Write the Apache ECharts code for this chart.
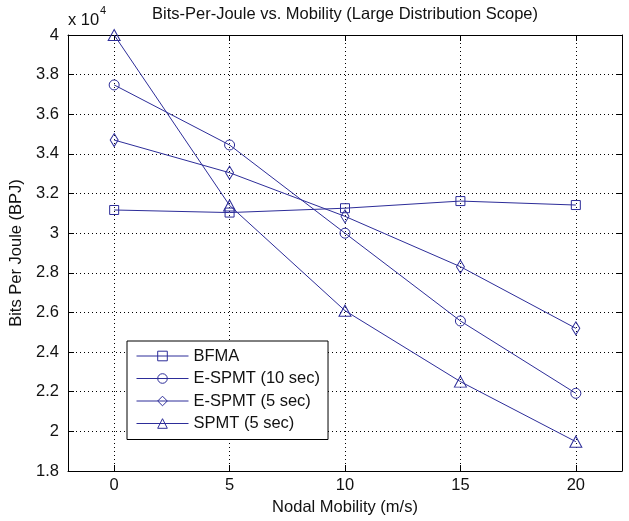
<!DOCTYPE html>
<html>
<head>
<meta charset="utf-8">
<script src="https://cdn.jsdelivr.net/npm/echarts@6/dist/echarts.min.js"></script>
<style>
html,body{margin:0;padding:0;background:#fff;}
#chart{width:629px;height:521px;}
</style>
</head>
<body>
<div id="chart"></div>
<script>
// ---- data ----
const mobility = [0, 5, 10, 15, 20];
const xTicks = [0, 5, 10, 15, 20];
const seriesNames = ['BFMA', 'E-SPMT (10 sec)', 'E-SPMT (5 sec)', 'SPMT (5 sec)'];
const bfma = [31170, 31040, 31260, 31620, 31420];
const espmt10 = [37480, 34450, 30000, 25570, 21920];
const espmt5 = [34700, 33050, 30850, 28310, 25200];
const spmt5 = [40000, 31400, 26090, 22510, 19480];
const titleText = 'Bits-Per-Joule vs. Mobility (Large Distribution Scope)';
const xName = 'Nodal Mobility (m/s)';
const yName = 'Bits Per Joule (BPJ)';

const BLUE = '#2d2d99';
const FONT = "'Liberation Sans', Arial, Helvetica, sans-serif";
const FS = 16.5;

function mk(name, vals, symbol, size) {
  return {
    name: name,
    type: 'line',
    data: mobility.map((x, i) => [x, vals[i]]),
    symbol: symbol,
    symbolSize: size,
    showAllSymbol: true,
    lineStyle: { color: BLUE, width: 1 },
    itemStyle: { color: 'rgba(0,0,0,0)', borderColor: BLUE, borderWidth: 1 },
    emphasis: { disabled: true },
    z: 3
  };
}

const chart = echarts.init(document.getElementById('chart'), null, { renderer: 'canvas' });
const fmt = v => String(parseFloat((v / 10000).toFixed(1)));

chart.setOption({
  animation: false,
  backgroundColor: '#fff',
  textStyle: { fontFamily: FONT },
  title: {
    text: titleText,
    left: 345,
    top: 6,
    textAlign: 'center',
    padding: 0,
    textStyle: { fontFamily: FONT, fontSize: FS, fontWeight: 'normal', color: '#111' }
  },
  graphic: [
    { type: 'text', left: 68, top: 12, style: { text: 'x 10', font: FS + 'px ' + FONT, fill: '#111' } },
    { type: 'text', left: 100, top: 5, style: { text: '4', font: '11px ' + FONT, fill: '#111' } }
  ],
  grid: { left: 68, right: 7, top: 35, bottom: 50, containLabel: false },
  legend: {
    orient: 'vertical',
    left: 127,
    top: 341,
    data: seriesNames,
    itemWidth: 52,
    itemHeight: 12,
    itemGap: 2.5,
    padding: [5, 8, 6, 9],
    borderColor: '#000',
    borderWidth: 1,
    backgroundColor: '#fff',
    itemStyle: { borderWidth: 1, color: 'rgba(0,0,0,0)', borderColor: BLUE },
    lineStyle: { width: 1, color: BLUE },
    textStyle: { fontFamily: FONT, fontSize: FS, color: '#111', lineHeight: 20 },
    selectedMode: false
  },
  xAxis: [
    {
      type: 'value', min: -2, max: 22, position: 'bottom',
      name: xName, nameLocation: 'middle', nameGap: 24,
      nameTextStyle: { fontFamily: FONT, fontSize: FS, color: '#111' },
      axisLine: { show: true, onZero: false, lineStyle: { color: '#000', width: 1 } },
      axisTick: { show: true, inside: true, length: 6, customValues: xTicks, lineStyle: { color: '#000' } },
      axisLabel: { show: true, customValues: xTicks, margin: 6, fontFamily: FONT, fontSize: FS, color: '#111' },
      splitLine: { show: true, lineStyle: { color: '#000', type: [1, 3], width: 1 } }
    },
    {
      type: 'value', min: -2, max: 22, position: 'top',
      axisLine: { show: true, onZero: false, lineStyle: { color: '#000', width: 1 } },
      axisTick: { show: true, inside: true, length: 6, customValues: xTicks, lineStyle: { color: '#000' } },
      axisLabel: { show: false },
      splitLine: { show: false }
    }
  ],
  yAxis: [
    {
      type: 'value', min: 18000, max: 40000, interval: 2000, position: 'left',
      name: yName, nameLocation: 'middle', nameGap: 38,
      nameTextStyle: { fontFamily: FONT, fontSize: FS, color: '#111' },
      axisLine: { show: true, onZero: false, lineStyle: { color: '#000', width: 1 } },
      axisTick: { show: true, inside: true, length: 6, lineStyle: { color: '#000' } },
      axisLabel: { show: true, margin: 9, formatter: fmt, fontFamily: FONT, fontSize: FS, color: '#111' },
      splitLine: { show: true, lineStyle: { color: '#000', type: [1, 3], width: 1 } }
    },
    {
      type: 'value', min: 18000, max: 40000, interval: 2000, position: 'right',
      axisLine: { show: true, onZero: false, lineStyle: { color: '#000', width: 1 } },
      axisTick: { show: true, inside: true, length: 6, lineStyle: { color: '#000' } },
      axisLabel: { show: false },
      splitLine: { show: false }
    }
  ],
  series: [
    mk(seriesNames[0], bfma, 'rect', 9),
    mk(seriesNames[1], espmt10, 'circle', 10),
    mk(seriesNames[2], espmt5, 'diamond', [8, 13]),
    mk(seriesNames[3], spmt5, 'triangle', [12, 11])
  ]
});
</script>
</body>
</html>
